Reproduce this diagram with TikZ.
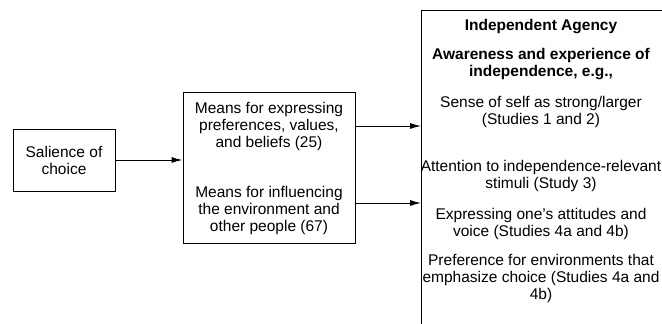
\documentclass[tikz,border=0pt]{standalone}
\usepackage{fontspec}
\setmainfont{Liberation Sans}
\usetikzlibrary{arrows.meta}

\begin{document}
\begin{tikzpicture}[x=1pt,y=-1pt,line width=1pt,
    font=\fontsize{15.5}{17}\selectfont,
    >={Latex[length=11pt,width=6pt]}]
  \useasboundingbox (0,0) rectangle (662,324);
  \node (sal) [draw, align=center, minimum width=102pt, minimum height=62pt] at (64,160) {Salience of\\choice};
  \node (means) [draw, minimum width=172pt, minimum height=151pt] at (269,167.5) {};
  \node (expr) [align=center] at (269,126) {Means for expressing\\preferences, values,\\and beliefs (25)};
  \node (infl) [align=center] at (269,210) {Means for influencing\\the environment and\\other people (67)};
  % open box on the right
  \coordinate (agency) at (421,10);
  \draw (421,324) -- (agency) -- (662,10);
  \node (title) [font=\fontsize{15.5}{17}\selectfont\bfseries] at (541,27) {Independent Agency};
  \node (aware) [align=center, font=\fontsize{15.5}{17}\selectfont\bfseries] at (541,64) {Awareness and experience of\\independence, e.g.,};
  \node (self) [align=center] at (541,112) {Sense of self as strong/larger\\(Studies 1 and 2)};
  \node (attn) [align=center] at (541,176) {Attention to independence-relevant\\stimuli (Study 3)};
  \node (voice) [align=center] at (541,223.5) {Expressing one’s attitudes and\\voice (Studies 4a and 4b)};
  \node (pref) [align=center] at (541,278) {Preference for environments that\\emphasize choice (Studies 4a and\\4b)};
  \draw [->] (sal.east) -- (sal.east -| means.west);
  \draw [->] (means.east |- 0,126) -- (agency |- 0,126);
  \draw [->] (means.east |- 0,203) -- (agency |- 0,203);
\end{tikzpicture}
\end{document}
